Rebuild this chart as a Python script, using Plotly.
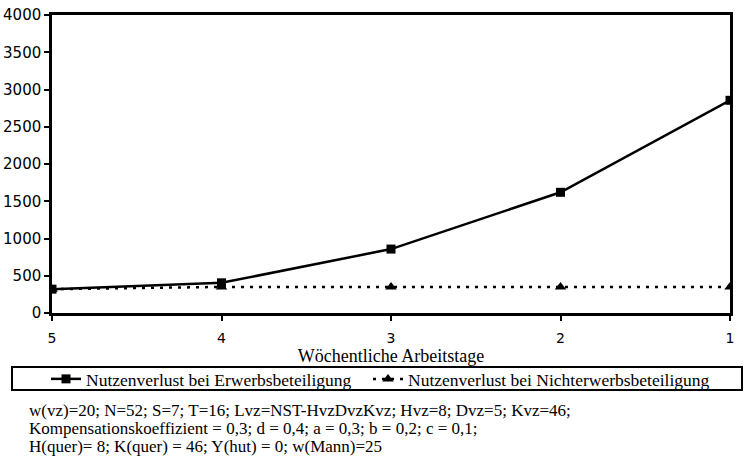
import plotly.graph_objects as go

arbeitstage = [5, 4, 3, 2, 1]
erwerb = [320, 405, 858, 1620, 2855]
nichterwerb = [320, 350, 350, 350, 350]
y_ticks = [0, 500, 1000, 1500, 2000, 2500, 3000, 3500, 4000]
name_erwerb = "Nutzenverlust bei Erwerbsbeteiligung"
name_nicht = "Nutzenverlust bei Nichterwerbsbeteiligung"
x_title = "Wöchentliche Arbeitstage"
note_lines = [
    "w(vz)=20; N=52; S=7; T=16; Lvz=NST-HvzDvzKvz; Hvz=8; Dvz=5; Kvz=46;",
    "Kompensationskoeffizient = 0,3; d = 0,4; a = 0,3; b = 0,2; c = 0,1;",
    "H(quer)= 8; K(quer) = 46; Y(hut) = 0; w(Mann)=25",
]

W, H = 745, 458
L, R, T, B = 52, 15, 15, 145
pw, ph = W - L - R, H - T - B

def px_x(p):
    return (p - L) / pw

def px_y(p):
    return (H - B - p) / ph

serif = "Liberation Serif"
sans = "DejaVu Sans"

fig = go.Figure()
fig.add_trace(go.Scatter(
    x=arbeitstage, y=erwerb, name=name_erwerb, mode="lines+markers",
    line=dict(color="black", width=2.5),
    marker=dict(symbol="square", size=9, color="black"),
    legend="legend",
))
fig.add_trace(go.Scatter(
    x=arbeitstage, y=nichterwerb, name=name_nicht, mode="lines+markers",
    line=dict(color="black", width=2.5, dash="3px,6px"),
    marker=dict(symbol="triangle-up", size=10, color="black"),
    legend="legend2",
))

leg_common = dict(
    orientation="h", yanchor="top", xanchor="left",
    borderwidth=0, bgcolor="rgba(0,0,0,0)",
    font=dict(family=serif, size=17.5, color="black"),
    itemwidth=30,
)

fig.update_layout(
    width=W, height=H,
    margin=dict(l=L, r=R, t=T, b=B, pad=0, autoexpand=False),
    paper_bgcolor="white", plot_bgcolor="white",
    showlegend=True,
    legend=dict(x=px_x(46), y=px_y(361), **leg_common),
    legend2=dict(x=px_x(368), y=px_y(361), **leg_common),
    font=dict(family=serif, color="black"),
    shapes=[dict(
        type="rect", xref="paper", yref="paper",
        x0=px_x(12), x1=px_x(742), y0=px_y(367), y1=px_y(390),
        line=dict(color="black", width=2), fillcolor="rgba(0,0,0,0)",
    )],
)
fig.update_xaxes(
    range=[5, 1], tickmode="array", tickvals=arbeitstage,
    ticktext=[str(v) for v in arbeitstage],
    showgrid=False, zeroline=False,
    showline=True, linecolor="black", linewidth=2.5, mirror=True,
    ticks="outside", ticklen=5, tickwidth=2, tickcolor="black",
    ticklabelstandoff=5,
    tickfont=dict(family=sans, size=14, color="black"),
    title=dict(text=x_title, font=dict(family=serif, size=18, color="black"), standoff=0),
)
fig.update_yaxes(
    range=[0, 4000], tickmode="array", tickvals=y_ticks,
    showgrid=False, zeroline=False,
    showline=True, linecolor="black", linewidth=2.5, mirror=True,
    ticks="outside", ticklen=5, tickwidth=2, tickcolor="black",
    tickfont=dict(family=sans, size=15, color="black"),
)

for i, line in enumerate(note_lines):
    fig.add_annotation(
        xref="paper", yref="paper", x=px_x(27), y=px_y(410 + 18 * i),
        xanchor="left", yanchor="middle", align="left", showarrow=False,
        text=line, font=dict(family=serif, size=17, color="black"),
    )

fig.write_html(
    "out.html",
    config={"displayModeBar": False},
    post_script="document.body.style.margin='0px';document.body.style.overflow='hidden';",
)
